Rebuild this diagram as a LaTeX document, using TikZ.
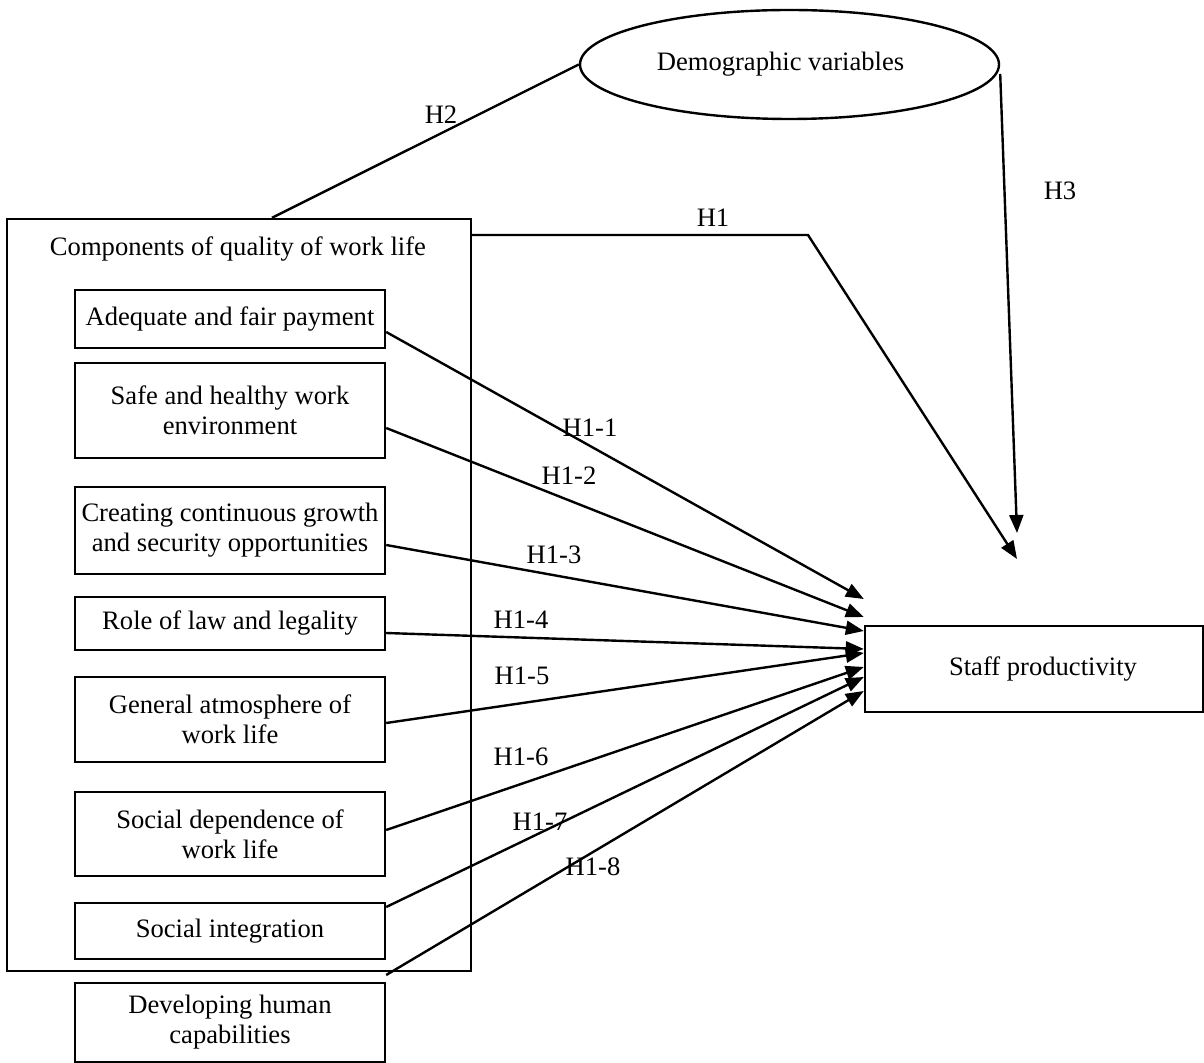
\documentclass[tikz,border=0pt]{standalone}
\usepackage{fontspec}
\setmainfont{Liberation Serif}
\usetikzlibrary{shapes.geometric,arrows.meta,positioning}

\begin{document}
\begin{tikzpicture}[x=0.5pt, y=-0.5pt,
                    every node/.style={font=\fontsize{13.3}{15}\selectfont},
                    line width=1.2pt,
                    factor/.style={draw, minimum width=155pt, align=center, inner sep=2pt},
                    hyp/.style={-{Triangle[length=9pt,width=7pt]}},]
    \useasboundingbox (0,0) rectangle (1204,1063);
    % outer frame and the variables
    \node[draw, minimum width=232pt, minimum height=376pt] (qwl) at (239,595) {};
    \node (qwltitle) at (238,249) {Components of quality of work life};
    \node[draw, ellipse, inner sep=0pt, minimum width=209.5pt, minimum height=54.5pt] (demo) at (789.5,64.5) {\raisebox{-3pt}{Demographic variables\hspace*{9pt}}};
    \node[draw, minimum width=169pt, minimum height=43pt] (staff) at (1034,669) {\hspace*{9pt}Staff productivity};
    % components
    \node[factor, minimum height=29pt] (b1) at (230,319) {Adequate and fair payment};
    \node[factor, minimum height=47.5pt] (b2) at (230,410.5) {Safe and healthy work\\environment};
    \node[factor, minimum height=43.5pt] (b3) at (230,530.5) {Creating continuous growth\\and security opportunities};
    \node[factor, minimum height=26.5pt] (b4) at (230,623.5) {Role of law and legality};
    \node[factor, minimum height=42.5pt] (b5) at (230,719.5) {General atmosphere of\\work life};
    \node[factor, minimum height=42pt] (b6) at (230,834) {Social dependence of\\work life};
    \node[factor, minimum height=28pt] (b7) at (230,931) {Social integration};
    \node[factor, minimum height=39.5pt] (b8) at (230,1022.5) {Developing human\\capabilities};
    % hypotheses
    \node (lh1) at (713,218) {H1};
    \node (lh2) at (441,115) {H2};
    \node (lh3) at (1060,191) {H3};
    \node (lh11) at (590,428) {H1-1};
    \node (lh12) at (569,476) {H1-2};
    \node (lh13) at (554,555) {H1-3};
    \node (lh14) at (521,620) {H1-4};
    \node (lh15) at (522,676) {H1-5};
    \node (lh16) at (521,757) {H1-6};
    \node (lh17) at (540,822) {H1-7};
    \node (lh18) at (593,867) {H1-8};
    \coordinate (h1bend) at (808,235);
    \coordinate (h1tip) at (1017,559);
    \coordinate (h3tip) at (1017,533);
    \draw (qwl.north -| 272,0) -- (demo.west);
    \draw[hyp] (qwl.east |- 0,235) -- (h1bend) -- (h1tip);
    \draw[hyp] (demo.east |- 0,74) -- (h3tip);
    \draw[hyp] (b1.east |- 0,332) -- (staff.west |- 0,599);
    \draw[hyp] (b2.east |- 0,428) -- (staff.west |- 0,617);
    \draw[hyp] (b3.east |- 0,545) -- (staff.west |- 0,631);
    \draw[hyp] (b4.east |- 0,633) -- (staff.west |- 0,649);
    \draw[hyp] (b5.east |- 0,723) -- (staff.west |- 0,653);
    \draw[hyp] (b6.east |- 0,830) -- (staff.west |- 0,667);
    \draw[hyp] (b7.east |- 0,907) -- (staff.west |- 0,677);
    \draw[hyp] (b8.east |- 0,975) -- (staff.west |- 0,691);
\end{tikzpicture}
\end{document}
